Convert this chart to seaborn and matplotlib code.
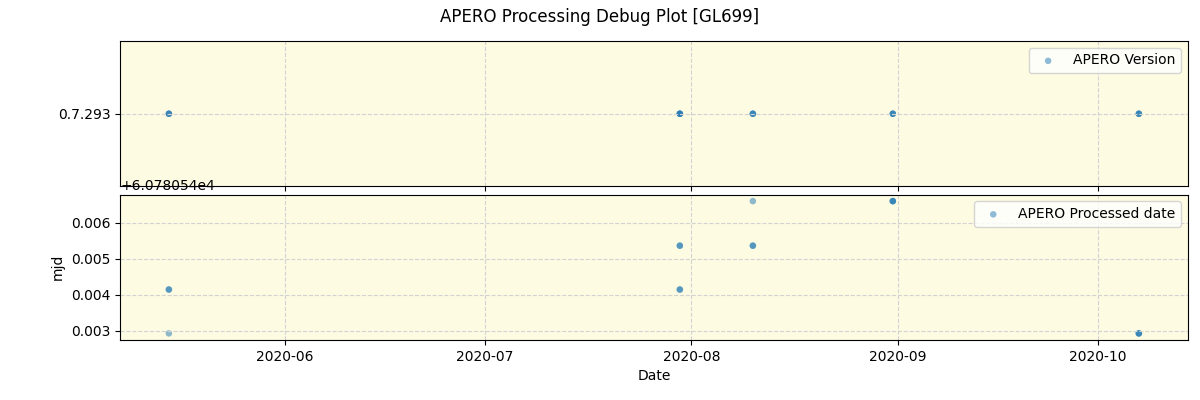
import pandas as pd
import matplotlib.pyplot as plt
import seaborn as sns
import numpy as np

# observation dates (several per night, so dots overlap and look darker)
obs_dates = ["2020-05-14 14:00", "2020-05-14 14:00", "2020-05-14 14:00",
             "2020-07-30 06:00", "2020-07-30 06:00", "2020-07-30 06:00", "2020-07-30 06:00",
             "2020-08-10 05:00", "2020-08-10 05:00", "2020-08-10 05:00",
             "2020-08-31 05:00", "2020-08-31 05:00", "2020-08-31 05:00",
             "2020-10-07 03:00", "2020-10-07 03:00", "2020-10-07 03:00"]

apero_version = ["0.7.293"] * len(obs_dates)

processed_mjd = [60780.54414, 60780.54414, 60780.54292,
                 60780.54536, 60780.54536, 60780.54414, 60780.54414,
                 60780.5466, 60780.54536, 60780.54536,
                 60780.5466, 60780.5466, 60780.5466,
                 60780.54292, 60780.54292, 60780.54292]

df = pd.DataFrame({"date": pd.to_datetime(obs_dates),
                   "version": apero_version,
                   "mjd": processed_mjd})

plt.rcParams['font.family'] = ['DejaVu Sans']

fig, axes = plt.subplots(2, 1, figsize=(12, 4), dpi=100, sharex=True)
fig.subplots_adjust(left=0.1, right=0.99, top=0.8975, bottom=0.15, hspace=0.055)
fig.suptitle("APERO Processing Debug Plot [GL699]", fontsize=12)

bg = "#fdfbe2"
sns.scatterplot(data=df, x="date", y="version", ax=axes[0], s=22, alpha=0.5,
                edgecolor="none", color="#1f77b4", label="APERO Version")
sns.scatterplot(data=df, x="date", y="mjd", ax=axes[1], s=22, alpha=0.5,
                edgecolor="none", color="#1f77b4", label="APERO Processed date")

for ax in axes:
    ax.set_facecolor(bg)
    ax.grid(True, linestyle="--", color="lightgray", linewidth=0.8)
    ax.legend(loc="upper right")

axes[0].set_ylabel("")
axes[0].set_xlabel("")
axes[1].set_ylabel("mjd")
axes[1].set_xlabel("Date")
axes[1].set_xlim(pd.Timestamp("2020-05-07 06:00"), pd.Timestamp("2020-10-14 12:00"))

plt.savefig("out.png")
